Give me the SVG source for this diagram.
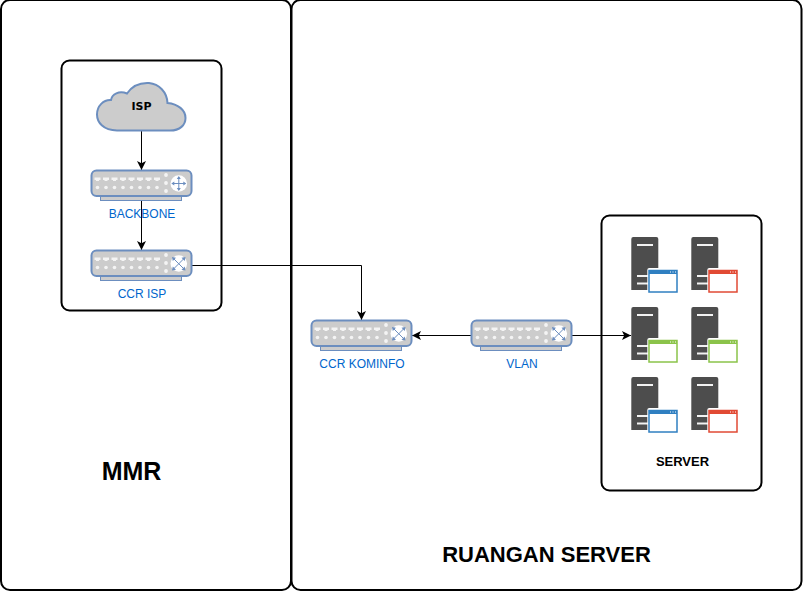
<svg xmlns="http://www.w3.org/2000/svg" xmlns:xlink="http://www.w3.org/1999/xlink" width="803" height="593" viewBox="0 0 803 593">
<style>
.box{fill:#fff;stroke:#000;stroke-width:2}
.lab{font-family:"Liberation Sans",Arial,sans-serif;font-size:12px;fill:#0066cc;text-anchor:middle}
.head{font-family:"Liberation Sans",Arial,sans-serif;font-weight:bold;fill:#000;text-anchor:middle}
.conn{fill:none;stroke:#000;stroke-width:1}
.ico{fill:#6c8ebf}
.sw{fill:#cccccc;stroke:#6c8ebf;stroke-width:2}
.gl{stroke:#6c8ebf;stroke-width:1;fill:none}
</style>
<defs>
<marker id="arr" markerUnits="userSpaceOnUse" markerWidth="12" markerHeight="12" refX="10" refY="6" orient="auto-start-reverse"><path d="M1 1.500 L10 6 L1 10.500 L3.200 6Z" fill="#000"/></marker>
<g id="chassis">
<rect x="10" y="26" width="81" height="5" fill="#cccccc" stroke="#6c8ebf"/>
<rect x="1" y="1" width="100" height="25.500" rx="5" class="sw"/>
<g fill="#f4f4f4">
<path d="M4 8h6v2.500h-1.500v1h-3v-1h-1.500z"/>
<path d="M12.500 8h6v2.500h-1.500v1h-3v-1h-1.500z"/><path d="M21 8h6v2.500h-1.500v1h-3v-1h-1.500z"/><path d="M29.500 8h6v2.500h-1.500v1h-3v-1h-1.500z"/><path d="M38 8h6v2.500h-1.500v1h-3v-1h-1.500z"/><path d="M46.500 8h6v2.500h-1.500v1h-3v-1h-1.500z"/><path d="M55 8h6v2.500h-1.500v1h-3v-1h-1.500z"/><path d="M63.500 8h6v2.500h-1.500v1h-3v-1h-1.500z"/>
<circle cx="7" cy="18" r="1.800"/><circle cx="15.500" cy="18" r="1.800"/><circle cx="24" cy="18" r="1.800"/><circle cx="32.500" cy="18" r="1.800"/><circle cx="41" cy="18" r="1.800"/><circle cx="49.500" cy="18" r="1.800"/><circle cx="58" cy="18" r="1.800"/><circle cx="66.500" cy="18" r="1.800"/>
<circle cx="75.500" cy="5.500" r="1.900"/><circle cx="75.500" cy="13.500" r="1.900"/><circle cx="75.500" cy="21.500" r="1.900"/>
<circle cx="88.300" cy="14" r="8.300" fill="#fff"/>
</g>
</g>
<g id="switch">
<use href="#chassis"/>
<path class="gl" d="M82.500 8.500L94 20M94 8.500L82.500 20"/>
<path class="ico" d="M81.500 7.500l4 .8-3.200 3.200zM95 7.500l-4 .8 3.200 3.200zM81.500 21l4-.8-3.200-3.200zM95 21l-4-.8 3.200-3.200z"/>
</g>
<g id="router">
<use href="#chassis"/>
<path class="gl" d="M88.300 7.500v13M81.800 14h13"/>
<path class="ico" d="M88.300 6.500l-2 3h4zM88.300 21.500l-2-3h4zM80.800 14l3-2v4zM95.800 14l-3-2v4z"/>
</g>
<g id="tower">
<path d="M0 2a2 2 0 0 1 2-2h23a2 2 0 0 1 2 2v51h-27z" fill="#4d4d4d" transform="translate(0.300,0)"/>
<rect x="6" y="7" width="16" height="2" fill="#f2f2f2"/>
<rect x="6" y="38" width="16" height="2" fill="#f2f2f2"/>
<rect x="6" y="45.500" width="16" height="2" fill="#f2f2f2"/>
<rect x="16.300" y="31" width="31.500" height="26" rx="2" fill="#fff"/>
</g>
<g id="winB"><rect x="18" y="33.500" width="28" height="21.500" fill="#fff" stroke="#2f7fc1" stroke-width="1.500"/><rect x="18" y="33" width="28" height="4" fill="#2f7fc1"/><path d="M39 35h1M41.500 35h1M44 35h1" stroke="#fff"/></g>
<g id="winR"><rect x="18" y="33.500" width="28" height="21.500" fill="#fff" stroke="#e14a34" stroke-width="1.500"/><rect x="18" y="33" width="28" height="4" fill="#e14a34"/><path d="M39 35h1M41.500 35h1M44 35h1" stroke="#fff"/></g>
<g id="winG"><rect x="18" y="33.500" width="28" height="21.500" fill="#fff" stroke="#8bc34a" stroke-width="1.500"/><rect x="18" y="33" width="28" height="4" fill="#8bc34a"/><path d="M39 35h1M41.500 35h1M44 35h1" stroke="#fff"/></g>
</defs>

<g id="zone-mmr"><rect class="box" x="1" y="0" width="290" height="590" rx="9"/><text class="head" x="131.500" y="480" font-size="25">MMR</text></g>
<g id="zone-ruangan"><rect class="box" x="291.500" y="0" width="510" height="590" rx="9"/><text class="head" x="546.500" y="562" font-size="22">RUANGAN SERVER</text></g>
<g id="zone-isp"><rect class="box" x="61.500" y="60.500" width="160" height="250" rx="8"/></g>
<g id="zone-server"><rect class="box" x="601.500" y="215.500" width="160" height="275" rx="8"/><text class="head" x="682.500" y="465.500" font-size="13">SERVER</text></g>

<g id="connectors">
<path class="conn" d="M141.500 131V170" marker-end="url(#arr)"/>
<path class="conn" d="M141.500 197V250" marker-end="url(#arr)"/>
<path class="conn" d="M191 265.500H361.500V320" marker-end="url(#arr)"/>
<path class="conn" d="M471 335.500H412" marker-end="url(#arr)"/>
<path class="conn" d="M571 335.500H631" marker-end="url(#arr)"/>
</g>

<g id="node-isp">
<path d="M117 130.500C103 130.500 97 122 97 114.500C97 106 103.500 99.500 111 100C112 94 119 90.500 127 93.500C132 86 140 82.500 149 83C159 84 167 92 167.500 103C178 104 185.500 110 185.500 118C185.500 125 180 130.500 170 130.500Z" fill="#cccccc" stroke="#6c8ebf" stroke-width="2"/>
<text x="141.500" y="110" font-family="'DejaVu Sans',sans-serif" font-size="11" font-weight="bold" text-anchor="middle" fill="#000">ISP</text>
</g>
<g id="node-backbone"><use href="#router" x="90.500" y="169.500"/><text class="lab" x="142" y="218">BACKBONE</text></g>
<g id="node-ccr-isp"><use href="#switch" x="90.500" y="249.500"/><text class="lab" x="142" y="298">CCR ISP</text></g>
<g id="node-ccr-kominfo"><use href="#switch" x="310.500" y="319.500"/><text class="lab" x="362" y="368">CCR KOMINFO</text></g>
<g id="node-vlan"><use href="#switch" x="470.500" y="319.500"/><text class="lab" x="522" y="368">VLAN</text></g>

<g id="server-1"><use href="#tower" x="631" y="237"/><use href="#winB" x="631" y="237"/></g>
<g id="server-2"><use href="#tower" x="691" y="237"/><use href="#winR" x="691" y="237"/></g>
<g id="server-3"><use href="#tower" x="631" y="307"/><use href="#winG" x="631" y="307"/></g>
<g id="server-4"><use href="#tower" x="691" y="307"/><use href="#winG" x="691" y="307"/></g>
<g id="server-5"><use href="#tower" x="631" y="377"/><use href="#winB" x="631" y="377"/></g>
<g id="server-6"><use href="#tower" x="691" y="377"/><use href="#winR" x="691" y="377"/></g>
</svg>
